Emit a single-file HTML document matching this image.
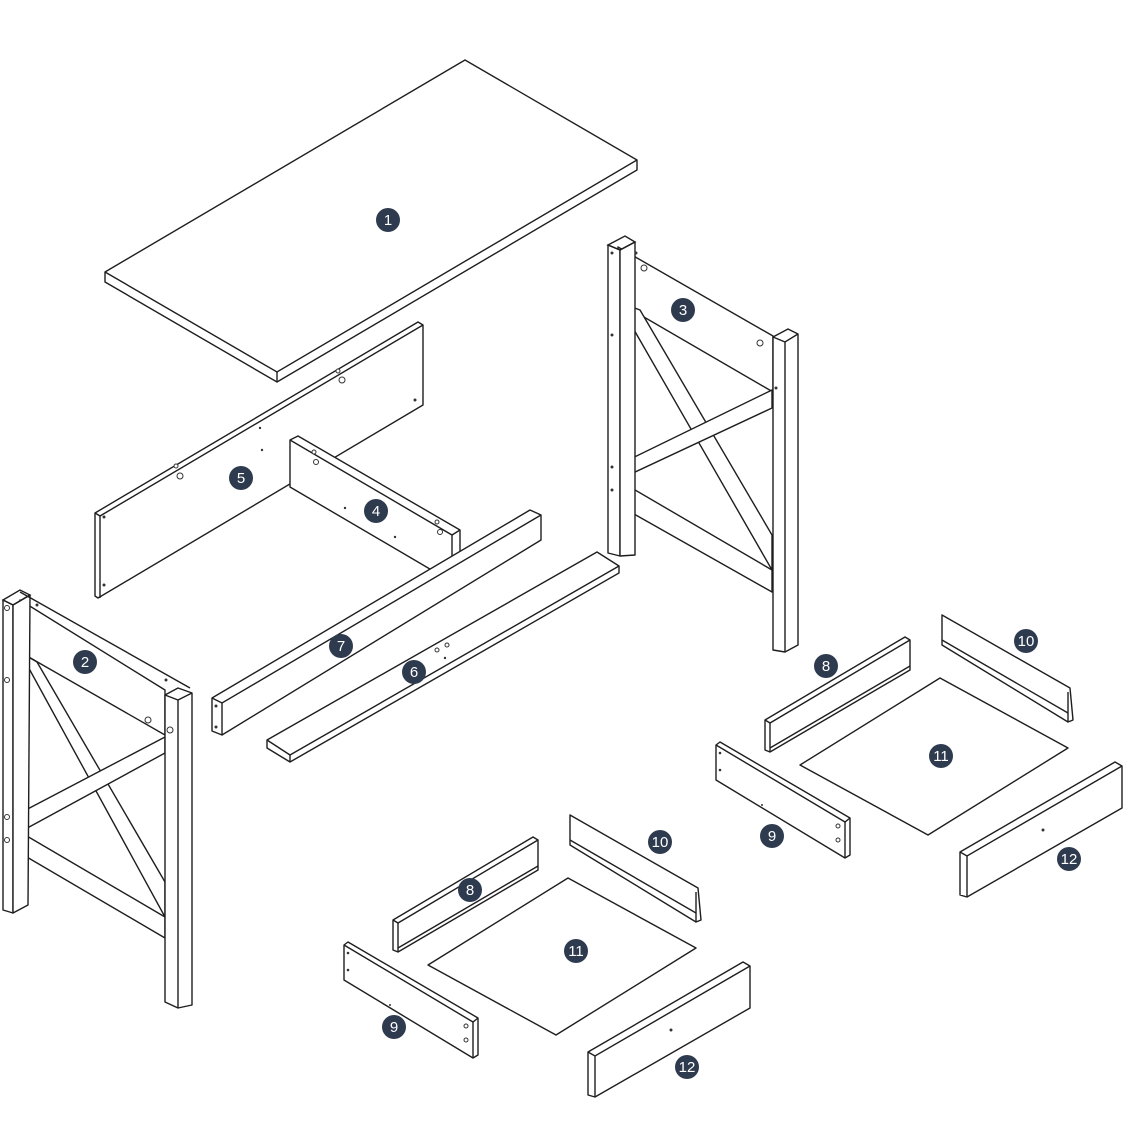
<!DOCTYPE html>
<html><head><meta charset="utf-8"><style>
html,body{margin:0;padding:0;background:#fff}
svg{display:block}
.l{fill:#fff;stroke:#1e1e1e;stroke-width:1.4;stroke-linejoin:round}
.n{fill:none;stroke:#1e1e1e;stroke-width:1.4}
.h{fill:#fff;stroke:#333;stroke-width:1}
.d{fill:#333}
.b circle{fill:#2e3a4e}
.b text{fill:#fff;font-family:"Liberation Sans",sans-serif;font-size:15px;text-anchor:middle}
</style></head><body>
<svg width="1125" height="1146" viewBox="0 0 1125 1146">
<!-- 1 tabletop -->
<polygon class="l" points="105,272 465,60 637,160 637,170 277,382 105,282"/>
<polyline class="n" points="105,272 277,372 637,160"/>
<line class="n" x1="277" y1="372" x2="277" y2="382"/>

<!-- 5 back panel -->
<polygon class="l" points="95,513 418,322 423,325 423,405 98,598 95,596"/>
<polyline class="n" points="95,513 100,516 423,325"/>
<line class="n" x1="100" y1="516" x2="100" y2="598"/>
<circle class="h" cx="338" cy="371" r="2"/><circle class="h" cx="342" cy="380" r="3"/>
<circle class="h" cx="176" cy="466" r="2"/><circle class="h" cx="180" cy="476" r="3"/>
<circle class="d" cx="104" cy="517" r="1.5"/><circle class="d" cx="104" cy="585" r="1.5"/>
<circle class="d" cx="415" cy="400" r="1.5"/><circle class="d" cx="260" cy="428" r="1.2"/><circle class="d" cx="262" cy="450" r="1.2"/>

<!-- 4 side panel -->
<polygon class="l" points="290,440 298,436 460,530 460,577 452,582 290,487"/>
<polyline class="n" points="290,440 452,535 460,530"/>
<line class="n" x1="452" y1="535" x2="452" y2="582"/>
<circle class="h" cx="314" cy="452" r="2"/><circle class="h" cx="316" cy="462" r="2.5"/>
<circle class="h" cx="437" cy="522" r="2"/><circle class="h" cx="440" cy="532" r="2.5"/>
<circle class="d" cx="345" cy="508" r="1.2"/><circle class="d" cx="395" cy="537" r="1.2"/>

<!-- 7 rail -->
<polygon class="l" points="212,698 530,510 541,515 541,540 222,735 212,731"/>
<polyline class="n" points="212,698 222,703 541,515"/>
<line class="n" x1="222" y1="703" x2="222" y2="735"/>
<circle class="d" cx="216" cy="706" r="1.5"/><circle class="d" cx="216" cy="727" r="1.5"/>

<!-- 6 board -->
<polygon class="l" points="267,740 597,552 619,566 290,755 290,762 267,748"/>
<polyline class="n" points="290,755 267,740"/><polyline class="n" points="619,566 619,573 290,762"/>
<circle class="h" cx="437" cy="650" r="2"/><circle class="h" cx="447" cy="645" r="2"/><circle class="d" cx="445" cy="658" r="1.2"/>

<!-- 3 leg -->
<g>
<polygon class="l" points="618,247 773,336 773,392 618,302"/>
<polygon class="l" points="618,302 772,570 772,535 640,310"/>
<polygon class="l" points="618,465 772,390 772,408 618,480"/>
<polygon class="l" points="618,480 772,570 772,592 618,505"/>
<polygon class="l" points="608,245 620,250 620,556 608,553"/>
<polygon class="l" points="620,250 635,242 635,555 620,556"/>
<polygon class="n" points="608,245 625,236 635,242 620,250"/>
<polygon class="l" points="773,337 788,329 798,334 798,645 785,652 773,650"/>
<polyline class="n" points="773,337 785,342 798,334"/><line class="n" x1="785" y1="342" x2="785" y2="652"/>
<circle class="d" cx="612" cy="253" r="1.5"/><circle class="d" cx="612" cy="335" r="1.5"/><circle class="d" cx="612" cy="467" r="1.5"/><circle class="d" cx="612" cy="490" r="1.5"/>
<circle class="h" cx="644" cy="268" r="3"/><circle class="h" cx="760" cy="343" r="3"/><circle class="d" cx="636" cy="253" r="1.5"/><circle class="d" cx="776" cy="388" r="1.5"/>
</g>

<!-- 2 leg -->
<g>
<polygon class="l" points="20,600 165,690 165,735 20,652"/>
<polygon class="l" points="20,652 165,917 165,882 37,662"/>
<polygon class="l" points="20,813 165,737 165,753 20,832"/>
<polygon class="l" points="20,832 165,917 165,938 20,853"/>
<polygon class="l" points="3,600 13,605 13,913 3,910"/>
<polygon class="l" points="13,605 30,595 28,905 13,913"/>
<polygon class="n" points="3,600 20,590 30,595 13,605"/>
<line class="n" x1="20" y1="592" x2="190" y2="688"/>
<polygon class="l" points="165,695 178,688 192,693 192,1005 178,1008 165,1002"/>
<polyline class="n" points="165,695 178,700 192,693"/><line class="n" x1="178" y1="700" x2="178" y2="1008"/>
<circle class="h" cx="7" cy="608" r="2.5"/><circle class="h" cx="7" cy="680" r="2.5"/><circle class="h" cx="7" cy="817" r="2.5"/><circle class="h" cx="7" cy="840" r="2.5"/>
<circle class="h" cx="148" cy="720" r="3"/><circle class="h" cx="170" cy="730" r="3"/><circle class="d" cx="37" cy="605" r="1.5"/><circle class="d" cx="166" cy="680" r="1.5"/>
</g>

<!-- drawers -->
<g id="dr">
<polygon class="l" points="765,720 905,637 910,640 910,670 770,752 765,750"/>
<polyline class="n" points="765,720 770,723 910,640"/><line class="n" x1="770" y1="723" x2="770" y2="752"/>
<line class="n" x1="770" y1="748" x2="910" y2="666"/>
<polygon class="l" points="942,615 1070,688 1073,720 1068,722 942,645"/>
<line class="n" x1="942" y1="640" x2="1068" y2="713"/><line class="n" x1="1068" y1="692" x2="1068" y2="722"/>
<polygon class="l" points="800,765 940,678 1068,748 928,835"/>
<polygon class="l" points="716,745 720,742 850,818 850,855 845,858 716,780"/>
<polyline class="n" points="716,745 845,822 850,818"/><line class="n" x1="845" y1="822" x2="845" y2="858"/>
<circle class="d" cx="720" cy="753" r="1.3"/><circle class="d" cx="720" cy="770" r="1.3"/><circle class="d" cx="762" cy="805" r="1"/>
<circle class="h" cx="838" cy="826" r="2"/><circle class="h" cx="838" cy="840" r="2"/>
<polygon class="l" points="960,852 1115,762 1122,766 1122,808 967,897 960,895"/>
<polyline class="n" points="960,852 967,856 1122,766"/><line class="n" x1="967" y1="856" x2="967" y2="897"/>
<circle class="d" cx="1043" cy="830" r="1.5"/>
</g>
<use href="#dr" transform="translate(-372,200)"/>

<!-- badges -->
<g class="b">
<circle cx="388" cy="220" r="12"/><text x="388" y="225">1</text>
<circle cx="85" cy="662" r="12"/><text x="85" y="667">2</text>
<circle cx="683" cy="310" r="12"/><text x="683" y="315">3</text>
<circle cx="376" cy="511" r="12"/><text x="376" y="516">4</text>
<circle cx="241" cy="478" r="12"/><text x="241" y="483">5</text>
<circle cx="414" cy="672" r="12"/><text x="414" y="677">6</text>
<circle cx="341" cy="646" r="12"/><text x="341" y="651">7</text>
<circle cx="826" cy="666" r="12"/><text x="826" y="671">8</text>
<circle cx="772" cy="836" r="12"/><text x="772" y="841">9</text>
<circle cx="1026" cy="641" r="12"/><text x="1026" y="646">10</text>
<circle cx="941" cy="756" r="12"/><text x="941" y="761">11</text>
<circle cx="1069" cy="859" r="12"/><text x="1069" y="864">12</text>
<circle cx="470" cy="890" r="12"/><text x="470" y="895">8</text>
<circle cx="394" cy="1027" r="12"/><text x="394" y="1032">9</text>
<circle cx="660" cy="842" r="12"/><text x="660" y="847">10</text>
<circle cx="576" cy="951" r="12"/><text x="576" y="956">11</text>
<circle cx="687" cy="1067" r="12"/><text x="687" y="1072">12</text>
</g>
</svg>
</body></html>
